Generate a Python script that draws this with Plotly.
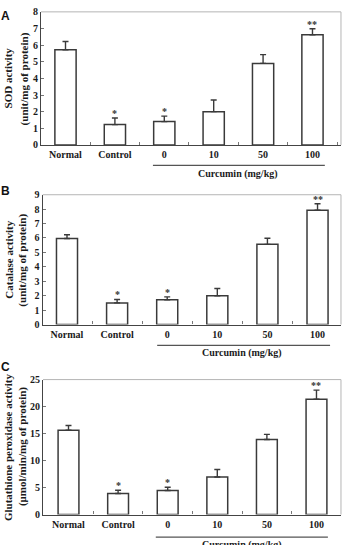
import plotly.graph_objects as go

categories = ["Normal", "Control", "0", "10", "50", "100"]
sod_mean = [5.72, 1.22, 1.40, 2.00, 4.90, 6.62]
sod_err = [0.50, 0.40, 0.33, 0.70, 0.53, 0.36]
cat_mean = [5.97, 1.50, 1.72, 2.00, 5.56, 7.92]
cat_err = [0.26, 0.24, 0.20, 0.50, 0.42, 0.46]
gpx_mean = [15.6, 3.9, 4.45, 6.95, 13.9, 21.35]
gpx_err = [0.9, 0.6, 0.6, 1.4, 0.95, 1.7]
stars = ["", "*", "*", "", "", "**"]

panels = [
    dict(letter="A", mean=sod_mean, err=sod_err,
         t1="SOD activity", t2="(unit/mg of protein)",
         xdom=[0.1185, 0.9855], ydom=[0.7394, 0.989], xr=[-0.496, 5.577],
         yr=[0, 8], dtick=1, uline=(1.77, 5.25, 0.7009), cur_y=0.6844,
         letter_y=1 - 10 / 545, t1x=8, t2x=24, bw=0.43),
    dict(letter="B", mean=cat_mean, err=cat_err,
         t1="Catalase activity", t2="(unit/mg of protein)",
         xdom=[0.1234, 0.9855], ydom=[0.4024, 0.6459], xr=[-0.485, 5.468],
         yr=[0, 9], dtick=1, uline=(1.80, 5.25, 0.3633), cur_y=0.3486,
         letter_y=1 - 189 / 545, t1x=9, t2x=23, bw=0.42),
    dict(letter="C", mean=gpx_mean, err=gpx_err,
         t1="Glutathione peroxidase activity", t2="(\u03bcmol/min/mg of protein)",
         xdom=[0.1243, 0.9855], ydom=[0.0459, 0.2991], xr=[-0.514, 5.494],
         yr=[0, 25], dtick=5, uline=(1.76, 5.23, 0.0037), cur_y=-0.011,
         letter_y=1 - 369 / 545, t1x=8, t2x=22, bw=0.42),
]

serif = "Liberation Serif"
txt = "#1a1a1a"
fig = go.Figure()
shapes = []
annotations = []
layout = {}

for i, p in enumerate(panels):
    n = "" if i == 0 else str(i + 1)
    xa, ya = "x" + n, "y" + n
    fig.add_trace(go.Bar(
        x=categories, y=p["mean"], xaxis=xa, yaxis=ya, width=p["bw"],
        marker=dict(color="white", line=dict(color="#3a3a3a", width=1.5)),
        error_y=dict(type="data", array=p["err"], arrayminus=[0] * 6,
                     symmetric=False, color="#3a3a3a", thickness=1.4, width=3),
        showlegend=False, hoverinfo="skip"))
    layout["xaxis" + n] = dict(
        domain=p["xdom"], anchor=ya, type="category", range=p["xr"],
        showline=True, linecolor="#444", linewidth=1.2,
        ticks="inside", ticklen=3, tickcolor="#777", tickson="boundaries",
        showgrid=False, zeroline=False, fixedrange=True,
        tickfont=dict(family=serif, size=10, color=txt, weight="bold"))
    layout["yaxis" + n] = dict(
        domain=p["ydom"], anchor=xa, range=p["yr"], dtick=p["dtick"],
        showline=True, linecolor="#444", linewidth=1.2,
        ticks="inside", ticklen=3, tickcolor="#777",
        showgrid=False, zeroline=False, fixedrange=True,
        tickfont=dict(family=serif, size=10, color=txt, weight="bold"))
    # light frame top & right
    shapes.append(dict(type="line", xref=xa + " domain", yref=ya + " domain",
                       x0=0, x1=1, y0=1, y1=1, line=dict(color="#b5b5b5", width=1)))
    shapes.append(dict(type="line", xref=xa + " domain", yref=ya + " domain",
                       x0=1, x1=1, y0=0, y1=1, line=dict(color="#b5b5b5", width=1)))
    # underline under curcumin doses
    u0, u1, uy = p["uline"]
    shapes.append(dict(type="line", xref=xa, yref="paper", x0=u0, x1=u1,
                       y0=uy, y1=uy, line=dict(color="#555", width=1.2)))
    annotations.append(dict(text="Curcumin (mg/kg)", xref=xa, yref="paper",
                            x=3.5, y=p["cur_y"], showarrow=False,
                            xanchor="center", yanchor="middle",
                            font=dict(family=serif, size=10, color=txt, weight="bold")))
    # panel letter
    annotations.append(dict(text=p["letter"], xref="paper", yref="paper",
                            x=6 / 346, y=p["letter_y"], showarrow=False,
                            xanchor="center", yanchor="middle",
                            font=dict(family="Liberation Sans", size=12, color="#111", weight="bold")))
    # y titles
    ymid = (p["ydom"][0] + p["ydom"][1]) / 2
    for t, tx in ((p["t1"], p["t1x"]), (p["t2"], p["t2x"])):
        annotations.append(dict(text=t, xref="paper", yref="paper",
                                x=tx / 346, y=ymid, textangle=-90, showarrow=False,
                                xanchor="center", yanchor="middle",
                                font=dict(family=serif, size=11, color=txt, weight="bold")))
    # significance stars
    for j, (m, e, s) in enumerate(zip(p["mean"], p["err"], stars)):
        if s:
            annotations.append(dict(text=s, xref=xa, yref=ya, x=j, y=m + e,
                                    showarrow=False, xanchor="center", yanchor="bottom",
                                    yshift=-3,
                                    font=dict(family=serif, size=10, color="#333", weight="bold")))

fig.update_layout(
    width=346, height=545, margin=dict(l=0, r=0, t=0, b=0),
    paper_bgcolor="white", plot_bgcolor="white",
    shapes=shapes, annotations=annotations, bargap=0.5, **layout)

fig.write_html("out.html")
